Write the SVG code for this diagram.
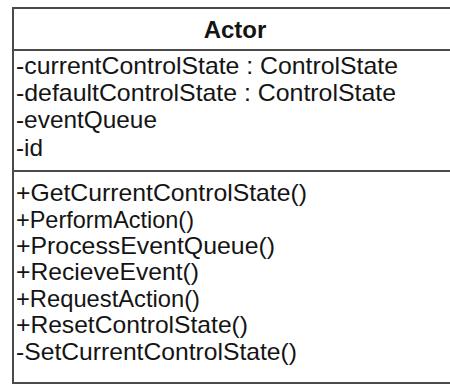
<svg xmlns="http://www.w3.org/2000/svg" width="450" height="386" viewBox="0 0 450 386">
  <style>
    .frame { fill: none; stroke: #4a4a4a; stroke-width: 2; }
    .rule { stroke: #4a4a4a; stroke-width: 2; }
    .title { font-family: "Liberation Sans", Arial, sans-serif; font-size: 24px; font-weight: bold; fill: #141414; text-anchor: middle; }
    .member { font-family: "Liberation Sans", Arial, sans-serif; font-size: 24px; fill: #141414; }
  </style>
  <rect width="450" height="386" fill="#ffffff"/>
  <g id="actor">
    <!-- class frame; the right side runs past the canvas edge -->
    <rect class="frame" x="13" y="8" width="450" height="375"/>
    <line class="rule" x1="13" y1="50" x2="450" y2="50"/>
    <line class="rule" x1="13" y1="171" x2="450" y2="171"/>
    <text class="title" x="235" y="38">Actor</text>
    <!-- attributes -->
    <text class="member" x="16" y="74" textLength="382" lengthAdjust="spacingAndGlyphs">-currentControlState : ControlState</text>
    <text class="member" x="16" y="101" textLength="380" lengthAdjust="spacingAndGlyphs">-defaultControlState : ControlState</text>
    <text class="member" x="16" y="128" textLength="141" lengthAdjust="spacingAndGlyphs">-eventQueue</text>
    <text class="member" x="16" y="156" textLength="27" lengthAdjust="spacingAndGlyphs">-id</text>
    <!-- operations -->
    <text class="member" x="16" y="201" textLength="291" lengthAdjust="spacingAndGlyphs">+GetCurrentControlState()</text>
    <text class="member" x="16" y="227.5" textLength="178" lengthAdjust="spacingAndGlyphs">+PerformAction()</text>
    <text class="member" x="16" y="254" textLength="259" lengthAdjust="spacingAndGlyphs">+ProcessEventQueue()</text>
    <text class="member" x="16" y="280" textLength="183" lengthAdjust="spacingAndGlyphs">+RecieveEvent()</text>
    <text class="member" x="16" y="306.5" textLength="184" lengthAdjust="spacingAndGlyphs">+RequestAction()</text>
    <text class="member" x="16" y="333" textLength="232" lengthAdjust="spacingAndGlyphs">+ResetControlState()</text>
    <text class="member" x="16" y="359.5" textLength="281" lengthAdjust="spacingAndGlyphs">-SetCurrentControlState()</text>
  </g>
</svg>
